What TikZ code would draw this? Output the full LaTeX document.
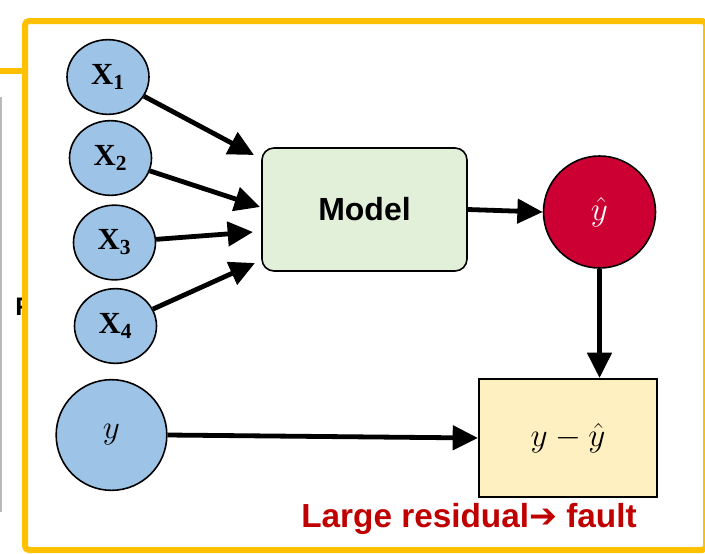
\documentclass[tikz,border=0pt]{standalone}
\usepackage{fontspec}
\setmainfont{Liberation Sans}
\newfontfamily\timesfont{Liberation Serif}
\newfontfamily\symfont{DejaVu Sans}
\usetikzlibrary{arrows.meta,shapes.geometric}
\definecolor{gold}{HTML}{FFC000}
\definecolor{inblue}{HTML}{9DC3E6}
\definecolor{modelgreen}{HTML}{E2F0D9}
\definecolor{crimson}{HTML}{CC0033}
\definecolor{resyellow}{HTML}{FFF0C2}
\definecolor{alertred}{HTML}{C00000}
\tikzset{
  feature/.style={ellipse, draw=black, line width=1.2pt, fill=inblue,
    minimum width=61.5pt, minimum height=56pt, inner sep=0pt,
    font=\timesfont\bfseries\fontsize{23}{23}\selectfont},
  bigcirc/.style={circle, draw=black, line width=1.2pt, minimum size=84pt, inner sep=0pt,
    font=\fontsize{24}{24}\selectfont},
  flow/.style={line width=3.6pt, -{Triangle[length=19pt,width=18pt]}},
}
\begin{document}
\begin{tikzpicture}[x=0.75pt,y=-0.75pt]
\useasboundingbox (0,0) rectangle (705,553);

% panel lying behind the main frame
\draw[gold, line width=4.5pt] (-5,71) -- (30,71);
\draw[gray!55, line width=1.2pt] (0.8,97) -- (0.8,512);
\node[anchor=west, inner sep=0pt, font=\bfseries\fontsize{19}{19}\selectfont] (behind) at (15,307) {F};

% main frame
\draw[gold, line width=4.5pt, fill=white, rounded corners=3pt] (25,21) rectangle (706,550);

% input features
\node[feature] (x1) at (108,77) {X\textsubscript{1}};
\node[feature] (x2) at (110.5,158) {X\textsubscript{2}};
\node[feature] (x3) at (114.5,242.5) {X\textsubscript{3}};
\node[feature] (x4) at (115.5,326) {X\textsubscript{4}};

% measured output
\node[bigcirc, fill=inblue, minimum size=83pt] (yin) at (111.5,435) {$y$};

% model block
\node[draw=black, line width=1.2pt, fill=modelgreen, rounded corners=9pt,
      minimum width=153.75pt, minimum height=92.25pt,
      font=\bfseries\fontsize{24}{24}\selectfont] (model) at (364.5,209.5) {Model};

% prediction
\node[bigcirc, fill=crimson, text=white] (yhat) at (599.5,212) {$\hat{y}$};

% residual block
\node[draw=black, line width=1.5pt, fill=resyellow,
      minimum width=133.5pt, minimum height=88.5pt,
      font=\fontsize{24}{24}\selectfont] (res) at (568,438) {$y-\hat{y}$};

% label under the residual block
\node[text=alertred, font=\bfseries\fontsize{25}{25}\selectfont] (note) at (469,519)
  {Large residual{\symfont\bfseries ➔} fault};

% arrow tips at the model's left side
\coordinate (t1) at (254,155);
\coordinate (t2) at (260,207);
\coordinate (t3) at (253,232);
\coordinate (t4) at (255,263);

\draw[flow] (x1) -- (t1);
\draw[flow] (x2) -- (t2);
\draw[flow] (x3) -- (t3);
\draw[flow] (x4) -- (t4);
\draw[flow] (model.east) -- (yhat.west);
\draw[flow] (yhat.south) -- (yhat.south |- res.north);
\draw[flow] (yin.east) -- (res.west);
\end{tikzpicture}
\end{document}
